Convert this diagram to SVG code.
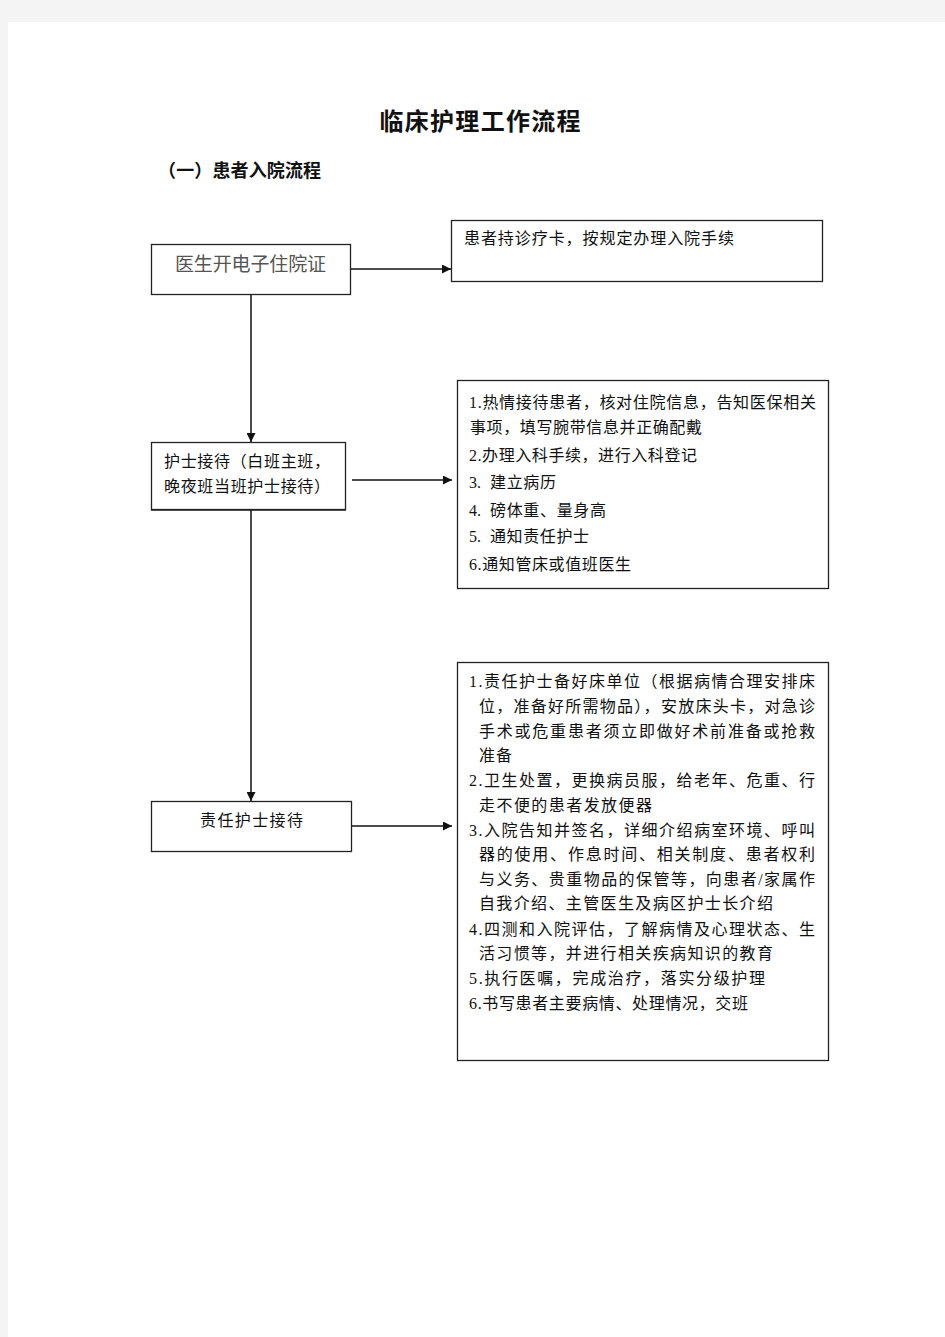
<svg xmlns="http://www.w3.org/2000/svg" width="945" height="1337" viewBox="0 0 945 1337">
<defs>
<style>
.box{fill:#fff;stroke:#222;stroke-width:1.3}
.t{font-family:"Liberation Serif","Noto Sans CJK SC",serif;font-size:16px;fill:#111}
.c{stroke:#111;stroke-width:1.5;fill:none}
</style>
<marker id="ah" viewBox="0 0 10 10" refX="10" refY="5" markerWidth="10" markerHeight="9" markerUnits="userSpaceOnUse" orient="auto"><path d="M0,0 L10,5 L0,10 z" fill="#111"/></marker>
</defs>
<rect x="0" y="0" width="945" height="1337" fill="#f4f4f4"/>
<rect x="8" y="22" width="937" height="1315" fill="#fff"/>
<text x="480" y="130" text-anchor="middle" font-family="'Noto Sans CJK SC',sans-serif" font-weight="bold" font-size="24" textLength="201" lengthAdjust="spacing" fill="#111">临床护理工作流程</text>
<text x="158" y="177" font-family="'Noto Sans CJK SC',sans-serif" font-weight="bold" font-size="18" textLength="163" lengthAdjust="spacing" fill="#111">（一）患者入院流程</text>
<g id="connectors">
<line class="c" x1="351" y1="269" x2="451" y2="269" marker-end="url(#ah)"/>
<line class="c" x1="251" y1="294" x2="251" y2="442" marker-end="url(#ah)"/>
<line class="c" x1="352" y1="480" x2="452" y2="480" marker-end="url(#ah)"/>
<line class="c" x1="251" y1="510" x2="251" y2="801" marker-end="url(#ah)"/>
<line class="c" x1="352" y1="826" x2="452" y2="826" marker-end="url(#ah)"/>
</g>
<g id="node-doctor">
<rect class="box" x="151.5" y="244.5" width="199" height="50"/>
<text class="t" x="175" y="271" style="font-size:19px;fill:#555" textLength="151" lengthAdjust="spacing">医生开电子住院证</text>
</g>
<g id="node-card">
<rect class="box" x="451.5" y="220.5" width="371" height="61"/>
<text class="t" x="464" y="244" textLength="270" lengthAdjust="spacing">患者持诊疗卡，按规定办理入院手续</text>
</g>
<g id="node-nurse">
<rect class="box" x="151.5" y="442.5" width="194" height="67"/>
<line x1="151" y1="510" x2="346" y2="510" stroke="#222" stroke-width="1.5"/>
<text class="t" x="164" y="467" textLength="166" lengthAdjust="spacing">护士接待（白班主班，</text>
<text class="t" x="164" y="492" textLength="166" lengthAdjust="spacing">晚夜班当班护士接待）</text>
</g>
<g id="node-steps1">
<rect class="box" x="457.5" y="380.5" width="371" height="208"/>
<text class="t" x="469" y="408" textLength="347" lengthAdjust="spacing">1.热情接待患者，核对住院信息，告知医保相关</text>
<text class="t" x="470" y="433" textLength="232" lengthAdjust="spacing">事项，填写腕带信息并正确配戴</text>
<text class="t" x="469" y="461" textLength="228" lengthAdjust="spacing">2.办理入科手续，进行入科登记</text>
<text class="t" x="469" y="488">3.</text><text class="t" x="490" y="488" textLength="66" lengthAdjust="spacing">建立病历</text>
<text class="t" x="469" y="516">4.</text><text class="t" x="490" y="516" textLength="116" lengthAdjust="spacing">磅体重、量身高</text>
<text class="t" x="469" y="542">5.</text><text class="t" x="490" y="542" textLength="99" lengthAdjust="spacing">通知责任护士</text>
<text class="t" x="469" y="570" textLength="162" lengthAdjust="spacing">6.通知管床或值班医生</text>
</g>
<g id="node-resp">
<rect class="box" x="151.5" y="801.5" width="200" height="50"/>
<text class="t" x="200" y="826" textLength="103" lengthAdjust="spacing">责任护士接待</text>
</g>
<g id="node-steps2">
<rect class="box" x="457.5" y="662.5" width="371" height="398"/>
<text class="t" x="469" y="687" textLength="346" lengthAdjust="spacing">1.责任护士备好床单位（根据病情合理安排床</text>
<text class="t" x="479" y="712" textLength="336" lengthAdjust="spacing">位，准备好所需物品），安放床头卡，对急诊</text>
<text class="t" x="479" y="737" textLength="336" lengthAdjust="spacing">手术或危重患者须立即做好术前准备或抢救</text>
<text class="t" x="479" y="761" textLength="33" lengthAdjust="spacing">准备</text>
<text class="t" x="469" y="786" textLength="346" lengthAdjust="spacing">2.卫生处置，更换病员服，给老年、危重、行</text>
<text class="t" x="479" y="811" textLength="173" lengthAdjust="spacing">走不便的患者发放便器</text>
<text class="t" x="469" y="836" textLength="346" lengthAdjust="spacing">3.入院告知并签名，详细介绍病室环境、呼叫</text>
<text class="t" x="479" y="860" textLength="336" lengthAdjust="spacing">器的使用、作息时间、相关制度、患者权利</text>
<text class="t" x="479" y="885" textLength="336" lengthAdjust="spacing">与义务、贵重物品的保管等，向患者/家属作</text>
<text class="t" x="479" y="909" textLength="294" lengthAdjust="spacing">自我介绍、主管医生及病区护士长介绍</text>
<text class="t" x="469" y="935" textLength="346" lengthAdjust="spacing">4.四测和入院评估，了解病情及心理状态、生</text>
<text class="t" x="479" y="959" textLength="294" lengthAdjust="spacing">活习惯等，并进行相关疾病知识的教育</text>
<text class="t" x="469" y="984" textLength="296" lengthAdjust="spacing">5.执行医嘱，完成治疗，落实分级护理</text>
<text class="t" x="469" y="1009" textLength="279" lengthAdjust="spacing">6.书写患者主要病情、处理情况，交班</text>
</g>
</svg>
